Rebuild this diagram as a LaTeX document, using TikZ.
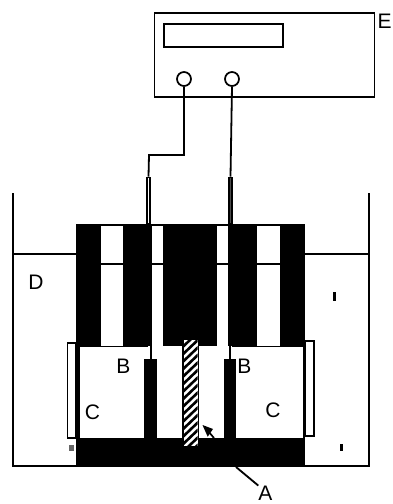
\documentclass[tikz,border=0pt]{standalone}
\usepackage{fontspec}
\setmainfont{Liberation Sans}
\begin{document}
\begin{tikzpicture}[
    x=1pt, y=-1pt,
    lw/.store in=\LW, lw=1.7pt,       % outline width
    outline/.style={draw=black, line width=\LW, fill=white},
    solid block/.style={fill=black},
    jack/.style={circle, draw=black, line width=1.7pt, fill=white, inner sep=0pt, minimum size=14pt},
    tube/.style={rectangle, draw=black, line width=1.6pt, inner sep=0pt, minimum width=3.5pt, minimum height=46pt},
    wire/.style={draw=black, line width=1.8pt},
    letter/.style={font=\fontsize{21}{22}\selectfont, inner sep=0pt},
  ]
  \useasboundingbox (0,0) rectangle (392,504);

  % Meter
  \draw[outline] (154.5,13) rectangle (374.5,97);
  \draw[outline] (164,24) rectangle (283,47);
  \node[jack] (jackl) at (184,79) {};
  \node[jack] (jackr) at (232,79) {};
  \node[letter, anchor=west] (labe) at (377.5,21) {E};

  % Bath
  \draw[line width=2pt] (12.5,193) -- (12.5,466) -- (369,466) -- (369,193);
  \draw[line width=1.5pt] (12.5,254) -- (76,254);
  \draw[line width=1.5pt] (305,254) -- (369,254);

  % Side plates
  \draw[outline] (67.5,343) rectangle (76,438);
  \draw[outline] (305,341) rectangle (314,436);

  % Cell body: top edge, level line, black columns
  \draw[line width=2pt] (76,225) -- (305,225);
  \draw[line width=1.5pt] (100,264) -- (280,264);
  \fill[solid block] (76,224) rectangle (100.5,346);
  \fill[solid block] (122.5,224) rectangle (152,346);
  \fill[solid block] (163,224) rectangle (217,346);
  \fill[solid block] (228,224) rectangle (257,346);
  \fill[solid block] (280,224) rectangle (305,346);

  % Cell walls and floor
  \fill[solid block] (76,346) rectangle (79.5,438);
  \fill[solid block] (303,346) rectangle (305,438);
  \fill[solid block] (76,437.5) rectangle (305,466);
  \draw[line width=1.5pt] (79,346.5) -- (148,346.5);
  \draw[line width=1.5pt] (232,346.5) -- (303,346.5);

  % Electrodes B
  \draw[line width=2pt] (151,346) -- (151,359);
  \draw[line width=2pt] (230,346) -- (230,359);
  \fill[solid block] (144,359) rectangle (157,437.5);
  \fill[solid block] (224,359) rectangle (236,437.5);

  % Sample A, hatched
  \fill[black] (182,340) rectangle (199,446);
  \fill[white] (183.5,340) rectangle (197.5,446);
  \begin{scope}
    \clip (183.5,340) rectangle (197.5,446);
    \foreach \i in {0,...,16}
      \draw[black, line width=2.6pt] (180,{342+\i*7.5}) -- (201,{322+\i*7.5});
  \end{scope}

  % Pointer arrow and leader
  \fill[black] (202.5,425) -- (213,429) -- (207.7,436.7) -- cycle;
  \draw[line width=1.7pt] (208,431) -- (214,438);
  \coordinate (leaderfoot) at (236,467);
  \node[letter] (laba) at (265.5,493) {A};
  \draw[line width=1.8pt] (leaderfoot) -- (laba.north west);

  % Tubes and wires
  \node[tube, fill=white] (tubel) at (148.5,200.5) {};
  \node[tube, fill=black!70] (tuber) at (230.5,200.5) {};
  \coordinate (bend) at (149,155);
  \draw[wire] (jackl.south) |- (bend) -- (tubel.north);
  \draw[wire] (jackr.south) -- (tuber.north);

  % Labels
  \node[letter] (labd) at (36,282) {D};
  \node[letter] (labbl) at (123.5,366.5) {B};
  \node[letter] (labbr) at (244.5,366.5) {B};
  \node[letter] (labcl) at (92.5,412) {C};
  \node[letter] (labcr) at (273,410) {C};

  % Small marks in the bath
  \fill[black] (332.5,292) rectangle (335.5,301);
  \fill[black] (339.5,444) rectangle (342.5,451);
  \fill[black!60] (69,445) rectangle (74,451);
\end{tikzpicture}
\end{document}
